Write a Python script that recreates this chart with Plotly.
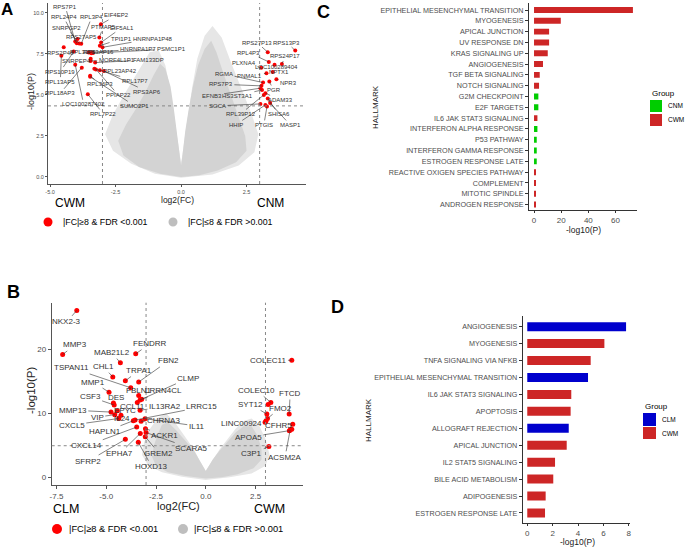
import plotly.graph_objects as go

W, H = 685, 547
FONT = "Liberation Sans, Arial, sans-serif"


def fx(p):
    return p / W


def fy(p):
    return 1 - p / H


# ---------------- Panel A data (CWM vs CNM volcano) ----------------
A_genes = ["RPS7P1", "RPL24P4", "SNRPGP2", "RPL3P4", "EIF4EP2", "PTMAP5", "EIF5AL1",
           "RPS27AP5", "TPI1P1", "HNRNPA1P48", "RPS2P46", "RPL39P5", "RPS3AP16",
           "HNRNPA1P7", "PSMC1P1", "SNRPEP4", "MORF4L1P1", "FAM133DP", "RPS10P19",
           "RPL23AP42", "RPL17P7", "RPL13AP5", "RPL36P3", "RPS3AP6", "RPL18AP3",
           "PPIAP22", "LOC100287402", "SUMO2P1", "RPL7P22",
           "RPS27P13", "RPS13P3", "RPL4P3", "RPS24P17", "PLXNA4", "LOC100289404",
           "NPTX1", "RGMA", "PNMAL1", "NPR3", "RPS7P3", "PGR", "EFNB3", "HS3ST3A1",
           "ADAM33", "SGCA", "RPL39P12", "SHISA6", "HHIP", "PTGIS", "MASP1"]
A_fc = [-4.04, -3.98, -3.89, -3.81, -3.06, -3.12, -3.05,
        -3.95, -3.10, -3.00, -4.48, -3.53, -3.43,
        -3.41, -3.36, -3.45, -3.45, -3.28, -4.10,
        -3.10, -3.31, -4.57, -3.47, -2.95, -3.79,
        -3.25, -4.04, -3.47, -3.56,
        3.31, 4.36, 3.35, 3.85, 3.06, 3.57,
        3.50, 3.13, 3.26, 3.64, 3.07, 3.37, 3.03, 3.09,
        3.22, 3.03, 3.16, 3.31, 3.22, 3.28, 3.40]
A_p = [8.25, 8.15, 8.13, 8.11, 9.31, 8.50, 8.20,
       8.40, 8.00, 7.90, 7.90, 7.58, 7.54,
       7.60, 7.55, 7.21, 7.07, 6.97, 7.64,
       6.50, 6.59, 7.38, 6.16, 6.46, 6.66,
       6.55, 6.83, 6.10, 5.04,
       7.60, 7.70, 7.01, 6.89, 6.65, 6.83,
       6.40, 5.75, 6.32, 5.96, 5.55, 5.81, 5.41, 5.30,
       5.10, 4.45, 5.00, 4.78, 4.39, 4.29, 4.50]
# where each repelled label sits (data units)
A_lab_fc = [-4.42, -4.48, -4.36, -3.41, -2.46, -2.97, -2.27,
            -3.79, -2.27, -1.07, -4.61, -3.75, -3.15,
            -1.64, -0.38, -3.98, -2.46, -1.26, -4.61,
            -2.34, -1.77, -4.61, -3.09, -1.29, -4.61,
            -2.40, -3.72, -1.77, -2.97,
            2.90, 4.04, 2.59, 3.98, 2.40, 3.66,
            3.72, 1.64, 2.63, 4.10, 1.52, 3.53, 1.20, 2.15,
            3.79, 1.39, 2.27, 3.72, 2.08, 3.16, 4.17]
A_lab_p = [10.38, 9.74, 9.09, 9.74, 9.84, 9.13, 9.09,
           8.55, 8.43, 8.43, 7.58, 7.62, 7.62,
           7.79, 7.79, 7.09, 7.13, 7.13, 6.42,
           6.48, 5.87, 5.81, 5.67, 5.20, 5.10,
           5.00, 4.43, 4.33, 3.84,
           8.19, 8.19, 7.58, 7.34, 6.97, 6.69,
           6.42, 6.28, 6.16, 5.75, 5.65, 5.30, 4.96, 4.96,
           4.70, 4.33, 3.84, 3.84, 3.17, 3.17, 3.17]
# outlines of the cloud of non-significant genes: dense core and sparse fringe
A_core_fc = [0, -0.8, -1.6, -2.2, -2.4, -2.1, -1.7, -1.35, -1.05, -0.8, -0.6, -0.4, -0.28,
             -0.16, -0.06, 0, 0.06, 0.16, 0.3, 0.45, 0.65, 0.9, 1.15, 1.35, 1.6, 1.9, 2.2,
             2.45, 2.5, 2.1, 1.4, 0.7, 0]
A_core_p = [0, 0.2, 0.6, 1.3, 2.2, 3.2, 4.2, 5.2, 6.2, 6.9, 6.6, 5.5, 4.2,
            2.8, 1.4, 0.7, 1.4, 2.8, 4.2, 5.5, 6.8, 7.8, 8.3, 7.6, 6.4, 5.0, 3.7,
            2.5, 1.6, 0.9, 0.4, 0.1, 0]
A_fringe_fc = [0, -1.0, -1.9, -2.6, -2.9, -2.6, -2.1, -1.6, -1.2, -0.85, -0.6, -0.4, -0.25,
               -0.1, 0, 0.1, 0.25, 0.42, 0.62, 0.9, 1.2, 1.55, 1.9, 2.3, 2.7, 2.95, 2.8, 2.2,
               1.2, 0]
A_fringe_p = [-0.05, 0.2, 0.8, 1.6, 2.6, 3.8, 5.2, 6.5, 7.6, 7.7, 6.8, 5.2, 3.6,
              1.9, 0.8, 1.9, 3.6, 5.4, 7.2, 8.6, 9.2, 8.5, 7.0, 5.4, 3.8, 2.6, 1.5, 0.7,
              0.15, -0.05]
A_xticks = [-5, -2.5, 0, 2.5]
A_xticktext = ["-5.0", "-2.5", "0.0", "2.5"]
A_yticks = [0, 2.5, 5, 7.5, 10]
A_yticktext = ["0.0", "2.5", "5.0", "7.5", "10.0"]
A_fc_cut = 3.0
A_p_cut = 4.33

# ---------------- Panel B data (CLM vs CWM volcano) ----------------
B_genes = ["NKX2-3", "MMP3", "FENDRR", "MAB21L2", "FBN2", "TSPAN11", "CHL1", "TRPA1",
           "CLMP", "MMP1", "LRRN4CL", "FBLN1", "CSF3", "DES", "CCL11", "IL13RA2",
           "LRRC15", "EPYC", "MMP13", "VIP", "IL24", "CXCL5", "CHRNA3", "IL11",
           "HAPLN1", "ACKR1", "CXCL14", "SCARA5", "EPHA7", "GREM2", "SFRP2", "HOXD13",
           "COLEC11", "COLEC10", "FTCD", "SYT12", "FMO2", "LINC00924", "CFHR5",
           "APOA5", "C3P1", "ACSM2A"]
B_fc = [-6.48, -7.19, -3.52, -4.29, -3.37, -3.77, -4.67, -4.04,
        -3.30, -4.86, -3.22, -3.37, -4.60, -4.64, -3.44, -3.30,
        -3.55, -4.44, -4.76, -4.57, -4.26, -4.37, -3.25, -3.05,
        -3.64, -3.03, -3.47, -3.00, -3.29, -3.04, -4.04, -3.39,
        4.32, 3.27, 4.19, 3.07, 3.10, 2.98, 4.37,
        4.20, 3.17, 4.24]
B_p = [26.1, 19.2, 19.3, 17.9, 14.9, 14.0, 15.7, 15.1,
       12.1, 13.3, 12.2, 12.8, 11.3, 11.6, 11.7, 10.5,
       8.95, 10.4, 10.2, 9.8, 9.7, 9.2, 8.75, 9.16,
       8.85, 7.6, 7.86, 7.0, 6.87, 6.35, 5.94, 5.47,
       18.3, 11.7, 9.9, 9.9, 9.2, 8.6, 8.3,
       7.3, 4.8, 7.4]
B_lab_fc = [-6.98, -6.57, -2.80, -4.72, -1.88, -6.73, -5.15, -3.35,
            -0.87, -5.65, -2.13, -3.39, -5.81, -4.51, -3.67, -2.05,
            -0.20, -4.06, -6.68, -5.45, -4.22, -6.73, -2.13, -0.45,
            -5.06, -2.05, -5.98, -0.70, -4.31, -2.35, -5.90, -2.71,
            3.15, 2.56, 4.24, 2.23, 3.73, 1.81, 3.65,
            2.14, 2.31, 3.98]
B_lab_p = [24.3, 20.7, 20.9, 19.5, 18.2, 17.1, 17.3, 16.7,
           15.5, 14.9, 13.5, 13.5, 12.6, 12.5, 11.1, 11.0,
           11.0, 10.5, 10.5, 9.4, 9.27, 8.17, 8.95, 8.02,
           7.13, 6.6, 4.94, 4.5, 3.75, 3.75, 2.55, 1.66,
           18.3, 13.6, 13.1, 11.4, 10.8, 8.38, 8.17,
           6.25, 3.75, 3.13]
B_extra_fc = [3.03, 4.32, 3.13]
B_extra_p = [8.85, 7.5, 11.4]
B_core_fc = [0, -1.0, -1.9, -2.5, -2.7, -2.6, -2.4, -2.2, -1.9, -1.5, -1.1, -0.6, -0.3,
             -0.1, 0, 0.1, 0.35, 0.7, 1.1, 1.5, 1.9, 2.3, 2.6, 2.8, 2.8, 2.4, 1.6, 0.8, 0]
B_core_p = [-0.2, 0.2, 0.8, 1.8, 3.2, 5.0, 6.8, 8.2, 8.6, 7.4, 6.0, 4.2, 2.6,
            1.5, 1.0, 1.5, 2.8, 4.2, 5.6, 7.0, 8.0, 8.0, 6.5, 4.5, 2.8, 1.4, 0.5, 0.0, -0.2]
B_fringe_fc = [0, -1.2, -2.2, -2.9, -3.2, -3.1, -2.8, -2.4, -2.0, -1.6, -1.1, -0.6, -0.3,
               -0.1, 0, 0.1, 0.35, 0.7, 1.1, 1.5, 1.9, 2.3, 2.7, 3.0, 3.2, 3.0, 2.3, 1.2, 0]
B_fringe_p = [-0.4, 0.1, 0.8, 1.9, 3.5, 5.5, 7.6, 9.3, 10.0, 8.8, 6.6, 4.4, 2.6,
              1.5, 1.0, 1.5, 2.8, 4.4, 6.0, 7.6, 8.8, 9.2, 8.0, 6.0, 3.6, 1.8, 0.6, 0.0, -0.4]
B_xticks = [-7.5, -5, -2.5, 0, 2.5]
B_xticktext = ["-7.5", "-5.0", "-2.5", "0.0", "2.5"]
B_yticks = [0, 10, 20]
B_fc_cut = 3.0
B_p_cut = 4.94

# ---------------- Panel C data (hallmarks CNM/CWM) ----------------
C_terms = ["EPITHELIAL MESENCHYMAL TRANSITION", "MYOGENESIS", "APICAL JUNCTION",
           "UV RESPONSE DN", "KRAS SIGNALING UP", "ANGIOGENESIS", "TGF BETA SIGNALING",
           "NOTCH SIGNALING", "G2M CHECKPOINT", "E2F TARGETS", "IL6 JAK STAT3 SIGNALING",
           "INTERFERON ALPHA RESPONSE", "P53 PATHWAY", "INTERFERON GAMMA RESPONSE",
           "ESTROGEN RESPONSE LATE", "REACTIVE OXIGEN SPECIES PATHWAY", "COMPLEMENT",
           "MITOTIC SPINDLE", "ANDROGEN RESPONSE"]
C_values = [72.8, 19.7, 11.1, 11.1, 10.1, 6.6, 4.2, 3.7, 3.2, 3.2, 2.5, 2.5, 2.0, 2.0,
            2.0, 1.2, 1.2, 1.2, 1.2]
C_group = ["CWM", "CWM", "CWM", "CWM", "CWM", "CWM", "CWM", "CWM", "CNM", "CNM", "CWM",
           "CNM", "CNM", "CNM", "CNM", "CWM", "CWM", "CWM", "CWM"]
C_xticks = [0, 20, 40, 60]

# ---------------- Panel D data (hallmarks CLM/CWM) ----------------
D_terms = ["ANGIOGENESIS", "MYOGENESIS", "TNFA SIGNALING VIA NFKB",
           "EPITHELIAL MESENCHYMAL TRANSITION", "IL6 JAK STAT3 SIGNALING", "APOPTOSIS",
           "ALLOGRAFT REJECTION", "APICAL JUNCTION", "IL2 STAT5 SIGNALING",
           "BILE ACID METABOLISM", "ADIPOGENESIS", "ESTROGEN RESPONSE LATE"]
D_values = [7.79, 6.08, 5.0, 4.79, 3.47, 3.42, 3.27, 3.11, 2.19, 2.05, 1.45, 1.40]
D_group = ["CLM", "CWM", "CWM", "CLM", "CWM", "CWM", "CLM", "CWM", "CWM", "CWM", "CWM", "CWM"]
D_xticks = [0, 2, 4, 6, 8]

GROUP_COLORS = {"CNM": "#00CD00", "CWM": "#CD2626", "CLM": "#0000CD"}
RED = "#FF0000"
GREY = "#D3D3D3"
GREY_LIGHT = "#E6E6E6"

fig = go.Figure()


def cloud(xs, ys, color, xa, ya):
    fig.add_trace(go.Scatter(x=xs, y=ys, fill="toself", fillcolor=color,
                             line=dict(width=0), mode="lines", hoverinfo="skip",
                             showlegend=False, xaxis=xa, yaxis=ya))


# ---- volcano A ----
cloud(A_fringe_fc, A_fringe_p, GREY_LIGHT, "x", "y")
cloud(A_core_fc, A_core_p, GREY, "x", "y")
fig.add_trace(go.Scatter(x=A_fc, y=A_p, mode="markers", marker=dict(color=RED, size=4),
                         showlegend=False, xaxis="x", yaxis="y"))
# ---- volcano B ----
cloud(B_fringe_fc, B_fringe_p, GREY_LIGHT, "x2", "y2")
cloud(B_core_fc, B_core_p, GREY, "x2", "y2")
fig.add_trace(go.Scatter(x=B_fc + B_extra_fc, y=B_p + B_extra_p, mode="markers",
                         marker=dict(color=RED, size=5), showlegend=False,
                         xaxis="x2", yaxis="y2"))

# ---- bars C ----
for g in ["CNM", "CWM"]:
    ys = [t for t, gg in zip(C_terms, C_group) if gg == g]
    xs = [v for v, gg in zip(C_values, C_group) if gg == g]
    fig.add_trace(go.Bar(x=xs, y=ys, orientation="h", width=0.55,
                         marker=dict(color=GROUP_COLORS[g], line=dict(width=0)),
                         showlegend=False, xaxis="x3", yaxis="y3"))
# ---- bars D ----
for g in ["CLM", "CWM"]:
    ys = [t for t, gg in zip(D_terms, D_group) if gg == g]
    xs = [v for v, gg in zip(D_values, D_group) if gg == g]
    fig.add_trace(go.Bar(x=xs, y=ys, orientation="h", width=0.53,
                         marker=dict(color=GROUP_COLORS[g], line=dict(width=0)),
                         showlegend=False, xaxis="x4", yaxis="y4"))

annotations = []
shapes = []


def gene_labels(names, xs, ys, lxs, lys, xr, yr, size):
    for n, x, y, a, b in zip(names, xs, ys, lxs, lys):
        annotations.append(dict(x=x, y=y, ax=a, ay=b, xref=xr, yref=yr, axref=xr, ayref=yr,
                                text=n, showarrow=True, arrowhead=0, arrowwidth=0.6,
                                arrowcolor="#333333", standoff=0,
                                font=dict(size=size, color="#333333", family=FONT)))


gene_labels(A_genes, A_fc, A_p, A_lab_fc, A_lab_p, "x", "y", 6)
gene_labels(B_genes, B_fc, B_p, B_lab_fc, B_lab_p, "x2", "y2", 8)

# threshold lines
for xr, yr, cut, pcut in [("x", "y", A_fc_cut, A_p_cut), ("x2", "y2", B_fc_cut, B_p_cut)]:
    for v in (-cut, cut):
        shapes.append(dict(type="line", xref=xr, yref=yr + " domain", x0=v, x1=v, y0=0, y1=1,
                           line=dict(color="#888888", width=1, dash="dot")))
    shapes.append(dict(type="line", xref=xr + " domain", yref=yr, x0=0, x1=1, y0=pcut, y1=pcut,
                       line=dict(color="#888888", width=1, dash="dot")))


def text(x, y, s, size, color="#000000", bold=False, xanchor="center", angle=0):
    annotations.append(dict(x=fx(x), y=fy(y), xref="paper", yref="paper", text=s,
                            showarrow=False, xanchor=xanchor, yanchor="middle",
                            textangle=angle,
                            font=dict(size=size, color=color, family=FONT,
                                      weight=700 if bold else 400)))


def dot(x, y, r, color):
    shapes.append(dict(type="circle", xref="paper", yref="paper", x0=fx(x - r), x1=fx(x + r),
                       y0=fy(y + r), y1=fy(y - r), fillcolor=color, line=dict(width=0)))


def box(x0, y0, x1, y1, color):
    shapes.append(dict(type="rect", xref="paper", yref="paper", x0=fx(x0), x1=fx(x1),
                       y0=fy(y1), y1=fy(y0), fillcolor=color, line=dict(width=0)))


# panel letters
text(7, 9, "A", 17, bold=True)
text(323, 12, "C", 18, bold=True)
text(13, 292, "B", 18, bold=True)
text(337, 307, "D", 18, bold=True)

# Panel A extras
text(177, 200, "log2(FC)", 8.5, color="#222222")
text(31, 92, "-log10(P)", 9, color="#222222", angle=-90)
text(70, 203, "CWM", 12)
text(270, 203, "CNM", 12)
dot(48, 222, 4.5, RED)
text(61, 222, "|FC|≥8 &amp; FDR &lt;0.001", 8.8, xanchor="left")
dot(173, 222, 4.5, "#BEBEBE")
text(186, 222, "|FC|≤8 &amp; FDR &gt;0.001", 8.8, xanchor="left")

# Panel B extras
text(178, 506, "log2(FC)", 11, color="#222222")
text(31, 391, "-log10(P)", 11.5, color="#222222", angle=-90)
text(66, 509, "CLM", 12.5)
text(269, 509, "CWM", 12.5)
dot(57, 529, 5, RED)
text(67, 529, "|FC|≥8 &amp; FDR &lt;0.001", 9.3, xanchor="left")
dot(183, 529, 5, "#BEBEBE")
text(192, 529, "|FC|≤8 &amp; FDR &gt;0.001", 9.3, xanchor="left")

# Panel C extras
text(375, 107, "HALLMARK", 8, color="#222222", angle=-90)
text(583, 230, "-log10(P)", 8.5, color="#222222")
text(650, 93, "Group", 8, xanchor="left")
box(650, 100, 662, 112, GROUP_COLORS["CNM"])
box(650, 114, 662, 126, GROUP_COLORS["CWM"])
text(666, 106, "CNM", 6.5, xanchor="left")
text(666, 120, "CWM", 6.5, xanchor="left")

# Panel D extras
text(368, 420, "HALLMARK", 8, color="#222222", angle=-90)
text(577, 542, "-log10(P)", 8.5, color="#222222")
text(643, 406, "Group", 8, xanchor="left")
box(643, 413, 656, 426, GROUP_COLORS["CLM"])
box(643, 427, 656, 439, GROUP_COLORS["CWM"])
text(660, 419, "CLM", 6.5, xanchor="left")
text(660, 433, "CWM", 6.5, xanchor="left")

common = dict(showgrid=False, zeroline=False, showline=True, ticks="outside", ticklen=3,
              automargin=False)
volc_ax = dict(common, linecolor="#555555", tickcolor="#555555", linewidth=1)
bar_ax = dict(common, linecolor="#333333", tickcolor="#333333", linewidth=1)

fig.update_layout(
    width=W, height=H, margin=dict(l=0, r=0, t=0, b=0, autoexpand=False),
    paper_bgcolor="white", plot_bgcolor="white", showlegend=False,
    barmode="overlay",
    font=dict(family=FONT),
    xaxis=dict(volc_ax, domain=[fx(48), fx(306)], range=[-5.08, 4.77], anchor="y",
               tickvals=A_xticks, ticktext=A_xticktext, ticklen=2,
               tickfont=dict(size=5.5, color="#4D4D4D")),
    yaxis=dict(volc_ax, domain=[fy(184), fy(3)], range=[-0.43, 10.6], anchor="x",
               tickvals=A_yticks, ticktext=A_yticktext, ticklen=2,
               tickfont=dict(size=5.5, color="#4D4D4D")),
    xaxis2=dict(volc_ax, domain=[fx(51.7), fx(303.3)], range=[-7.74, 4.9], anchor="y2",
                tickvals=B_xticks, ticktext=B_xticktext,
                tickfont=dict(size=8, color="#4D4D4D")),
    yaxis2=dict(volc_ax, domain=[fy(485), fy(302.7)], range=[-1.2, 27.3], anchor="x2",
                tickvals=B_yticks, tickfont=dict(size=8, color="#4D4D4D")),
    xaxis3=dict(bar_ax, domain=[fx(529), fx(637)], range=[-3.7, 75.8], anchor="y3",
                tickvals=C_xticks, ticklen=2, tickfont=dict(size=8, color="#4D4D4D")),
    yaxis3=dict(bar_ax, domain=[fy(210), fy(3.3)], anchor="x3", type="category",
                categoryorder="array", categoryarray=C_terms, range=[18.5, -0.62],
                tickfont=dict(size=7.2, color="#4D4D4D")),
    xaxis4=dict(bar_ax, domain=[fx(522.7), fx(630)], range=[-0.36, 8.1], anchor="y4",
                tickvals=D_xticks, ticklen=2, tickfont=dict(size=8, color="#4D4D4D")),
    yaxis4=dict(bar_ax, domain=[fy(523.3), fy(316)], anchor="x4", type="category",
                categoryorder="array", categoryarray=D_terms, range=[11.61, -0.63],
                tickfont=dict(size=7.2, color="#4D4D4D")),
    annotations=annotations,
    shapes=shapes,
)

# remove the browser's default page margin so the figure sits at the window origin
fig.write_html("out.html", config={"displayModeBar": False},
               post_script="document.body.style.margin='0px';document.body.style.overflow='hidden';")
